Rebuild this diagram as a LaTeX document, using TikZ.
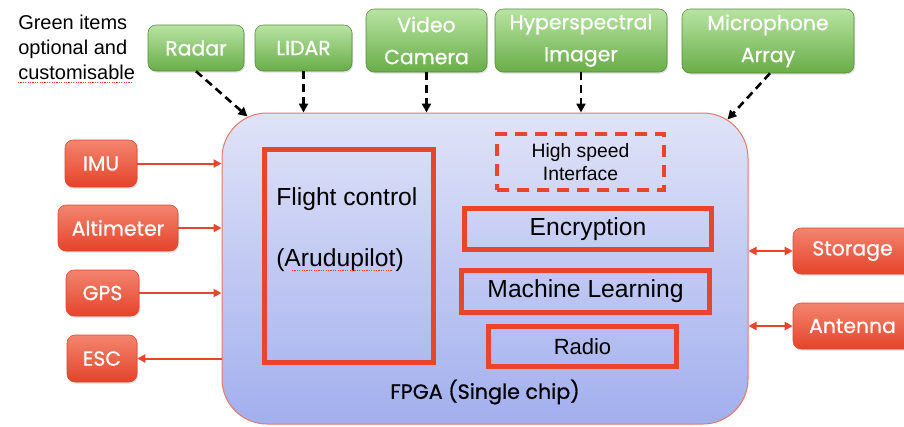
\documentclass[tikz,border=0pt]{standalone}
\usepackage{fontspec}
\setmainfont{Liberation Sans}
\newfontfamily\geo{Poppins}[FakeBold=0.7]
\newfontfamily\geolab{Poppins}
\usetikzlibrary{arrows.meta,shadows,calc}
\definecolor{redA}{HTML}{E8452C}
\definecolor{redTop}{HTML}{F3856F}
\definecolor{redBot}{HTML}{E5432A}
\definecolor{grTop}{HTML}{B8E4A2}
\definecolor{grBot}{HTML}{69AD48}
\definecolor{fpTop}{HTML}{E0E3F7}
\definecolor{fpBot}{HTML}{A2AFEE}
\definecolor{fpEdge}{HTML}{E07A68}
\tikzset{
  gbox/.style={rectangle, rounded corners=6pt, top color=grTop, bottom color=grBot, draw=grBot!80!black, line width=0.4pt, text=white, align=center, font={\geo\fontsize{15.3}{24}\selectfont}, inner sep=0pt, drop shadow={opacity=0.25, shadow xshift=0.8pt, shadow yshift=-1.2pt}},
  rbox/.style={rectangle, rounded corners=6pt, top color=redTop, bottom color=redBot, draw=redBot, line width=0.4pt, text=white, align=center, font={\geo\fontsize{15.3}{20}\selectfont}, inner sep=0pt, drop shadow={opacity=0.25, shadow xshift=0.8pt, shadow yshift=-1.2pt}},
  ibox/.style={rectangle, draw=redA, line width=4.1pt, inner sep=0pt, font={\fontsize{18.5}{22}\selectfont}},
  darr/.style={draw=black, line width=1.95pt, dash pattern=on 6pt off 3.75pt, -{Triangle[length=6.75pt,width=6.75pt]}},
  rarr/.style={draw=redA, line width=1.5pt, -{Triangle[length=6pt,width=6pt]}},
  rdarr/.style={draw=redA, line width=1.5pt, {Triangle[length=6pt,width=6pt]}-{Triangle[length=6pt,width=6pt]}},
  squig/.style={draw=red!80, line width=0.75pt, dash pattern=on 0.9pt off 0.9pt},
}
\begin{document}
\begin{tikzpicture}[x=0.75pt,y=-0.75pt]
\useasboundingbox (0,0) rectangle (904,426);
\clip (0,0) rectangle (904,426);

% note
\node[anchor=north west, align=left, inner sep=0pt, font={\fontsize{15}{18.75}\selectfont}] (note) at (18,15) {Green items\\optional and\\customisable};
\coordinate (sqA) at (18,82);
\coordinate (sqB) at (133,82);
\draw[squig] (sqA) -- (sqB);

% FPGA
\node[rectangle, rounded corners=33.75pt, top color=fpTop, bottom color=fpBot, draw=fpEdge, line width=0.75pt, minimum width=394.5pt, minimum height=233.25pt, inner sep=0pt] (fpga) at (485,268.5) {};
\node[font={\geo\fontsize{15.5}{20}\selectfont}] (fpgalab) at (485,392) {FPGA (Single chip)};

% green sensors
\node[gbox, minimum width=72pt, minimum height=34.5pt] (radar) at (196,48) {Radar};
\node[gbox, minimum width=72.75pt, minimum height=34.5pt] (lidar) at (303.5,48) {LIDAR};
\node[gbox, minimum width=90.75pt, minimum height=47.25pt] (video) at (426.5,40.5) {Video\\Camera};
\node[gbox, minimum width=129pt, minimum height=47.25pt] (hyper) at (581,40.5) {Hyperspectral\\Imager};
\node[gbox, minimum width=129pt, minimum height=48pt] (micro) at (768,41) {Microphone\\Array};

% red peripherals
\node[rbox, minimum width=54pt, minimum height=35.25pt] (imu) at (101,163.5) {IMU};
\node[rbox, minimum width=90pt, minimum height=34.5pt] (alt) at (118,228) {Altimeter};
\node[rbox, minimum width=54.75pt, minimum height=34.5pt] (gps) at (102.5,293) {GPS};
\node[rbox, minimum width=52.5pt, minimum height=35.25pt] (esc) at (102,358.5) {ESC};
\node[rbox, minimum width=89.25pt, minimum height=34.5pt] (stor) at (852.5,251) {Storage};
\node[rbox, minimum width=89.25pt, minimum height=34.5pt] (ant) at (852.5,326) {Antenna};

% inner blocks
\node[ibox, minimum width=126.75pt, minimum height=159.75pt] (fc) at (349,256) {};
\node[anchor=base west, inner sep=0pt, font={\fontsize{18.5}{22}\selectfont}] (fct1) at (276,205) {Flight control};
\node[anchor=base west, inner sep=0pt, font={\fontsize{18.5}{22}\selectfont}] (fct2) at (276,266) {(Arudupilot)};
\coordinate (sqC) at (292,270);
\coordinate (sqD) at (392,270);
\draw[squig] (sqC) -- (sqD);
\node[rectangle, draw=redA, line width=2.85pt, dash pattern=on 9pt off 6pt, minimum width=125.25pt, minimum height=42pt, inner sep=0pt, align=center, font={\fontsize{14.5}{17}\selectfont}] (hsi) at (580.5,162) {High speed\\Interface};
\node[ibox, minimum width=185.25pt, minimum height=30.75pt] (enc) at (588,229) {Encryption};
\node[ibox, minimum width=186pt, minimum height=31.5pt] (ml) at (585.5,291.5) {Machine Learning};
\node[ibox, minimum width=141pt, minimum height=30pt, font={\fontsize{16.5}{20}\selectfont}] (radio) at (582.5,346.5) {Radio};

% dashed sensor arrows
\draw[darr] (radar.south) -- ([shift={(26,4)}]fpga.north west);
\draw[darr] (lidar.south) -- (lidar.south |- fpga.north);
\draw[darr] (video.south) -- (video.south |- fpga.north);
\draw[darr] (hyper.south) -- (hyper.south |- fpga.north);
\draw[darr] ([xshift=1.5pt]micro.south) -- ([shift={(-21,7)}]fpga.north east);

% red arrows
\draw[rarr] (imu.east) -- (imu.east -| fpga.west);
\draw[rarr] (alt.east) -- (alt.east -| fpga.west);
\draw[rarr] (gps.east) -- (gps.east -| fpga.west);
\draw[rarr] (esc.east -| fpga.west) -- (esc.east);
\draw[rdarr] (stor.west -| fpga.east) -- (stor.west);
\draw[rdarr] (ant.west -| fpga.east) -- (ant.west);
\end{tikzpicture}
\end{document}
